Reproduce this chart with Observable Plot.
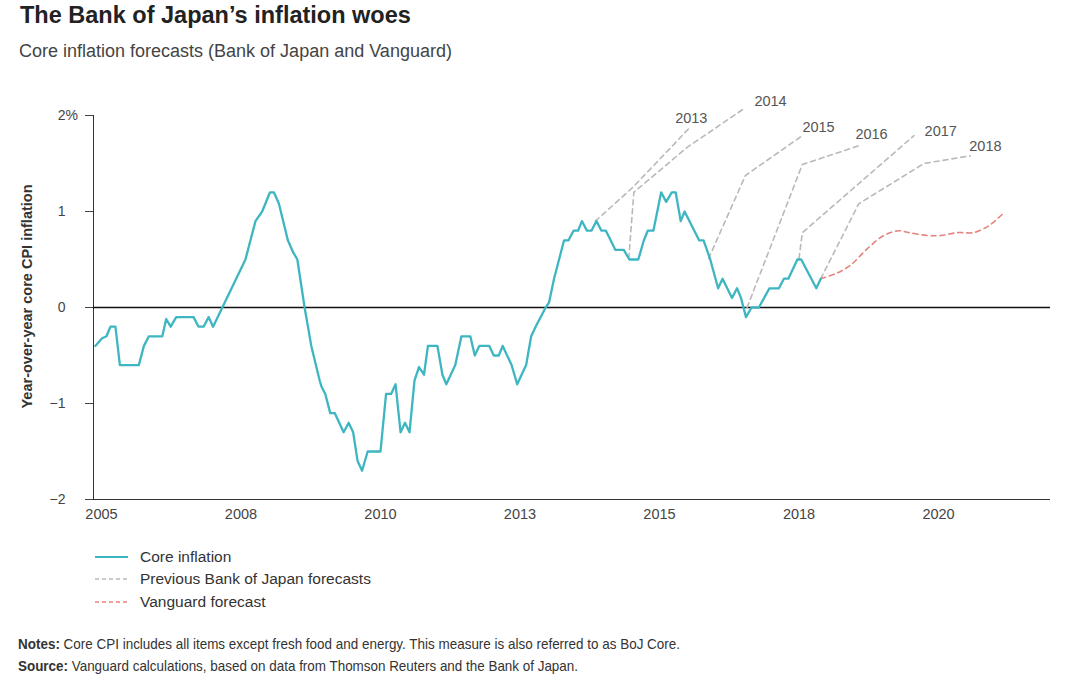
<!DOCTYPE html>
<html><head><meta charset="utf-8">
<script src="https://cdn.jsdelivr.net/npm/d3@7"></script>
<script src="https://cdn.jsdelivr.net/npm/@observablehq/plot@0.6"></script>
<style>
body{margin:0;background:#fff;font-family:"Liberation Sans",Arial,sans-serif;}
#wrap{position:relative;width:1080px;height:696px;overflow:hidden;background:#fff;}
.abs{position:absolute;white-space:nowrap;line-height:1;}
#title{left:20px;top:4px;font-size:23.5px;font-weight:700;color:#222;}
#subtitle{left:19px;top:42px;font-size:18px;color:#444;}
#chart{position:absolute;left:0;top:80px;}
.leg{left:95px;height:20px;font-size:15.5px;color:#333;display:flex;align-items:center;}
.leg svg{margin-right:12px;}
.note{left:18px;font-size:15px;color:#333;transform-origin:0 0;font-family:"Liberation Sans Narrow","Liberation Sans",Arial,sans-serif;}
.note b{font-weight:700;}
</style></head>
<body>
<div id="wrap">
  <div id="title" class="abs">The Bank of Japan’s inflation woes</div>
  <div id="subtitle" class="abs">Core inflation forecasts (Bank of Japan and Vanguard)</div>
  <div id="chart"></div>
  <div id="legend"></div>
  <div id="note1" class="abs note"><b>Notes:</b> Core CPI includes all items except fresh food and energy. This measure is also referred to as BoJ Core.</div>
  <div id="note2" class="abs note"><b>Source:</b> Vanguard calculations, based on data from Thomson Reuters and the Bank of Japan.</div>
</div>
<script>
// ---------- data ----------
const xTicks = [2005, 2007.5, 2010, 2012.5, 2015, 2017.5, 2020];
const xTickLabels = ["2005", "2008", "2010", "2013", "2015", "2018", "2020"];
const yTicks = [-2, -1, 0, 1, 2];
const yLabel = "Year-over-year core CPI inflation";

const coreInflation = [
[2004.89,-0.40],[2005.01,-0.32],[2005.09,-0.30],[2005.16,-0.20],[2005.25,-0.20],[2005.33,-0.60],[2005.67,-0.60],
[2005.76,-0.40],[2005.85,-0.30],[2006.09,-0.30],[2006.16,-0.12],[2006.24,-0.20],[2006.34,-0.10],[2006.65,-0.10],
[2006.74,-0.20],[2006.83,-0.20],[2006.92,-0.10],[2007.00,-0.20],[2007.58,0.50],[2007.76,0.90],[2007.88,1.00],
[2008.02,1.20],[2008.09,1.20],[2008.18,1.08],[2008.34,0.70],[2008.43,0.58],[2008.51,0.50],[2008.64,0.00],
[2008.76,-0.40],[2008.91,-0.76],[2008.94,-0.82],[2009.01,-0.90],[2009.10,-1.10],[2009.18,-1.10],[2009.34,-1.30],
[2009.43,-1.20],[2009.51,-1.30],[2009.59,-1.60],[2009.67,-1.70],[2009.77,-1.50],[2010.00,-1.50],[2010.10,-0.90],
[2010.19,-0.90],[2010.27,-0.80],[2010.36,-1.30],[2010.44,-1.20],[2010.52,-1.30],[2010.61,-0.76],[2010.69,-0.62],
[2010.78,-0.70],[2010.85,-0.40],[2011.02,-0.40],[2011.11,-0.70],[2011.18,-0.80],[2011.34,-0.60],[2011.45,-0.30],
[2011.61,-0.30],[2011.69,-0.50],[2011.77,-0.40],[2011.95,-0.40],[2012.03,-0.50],[2012.12,-0.50],[2012.19,-0.40],
[2012.35,-0.60],[2012.45,-0.80],[2012.61,-0.60],[2012.70,-0.30],[2012.78,-0.20],[2012.96,0.00],[2013.02,0.05],
[2013.11,0.30],[2013.29,0.70],[2013.37,0.70],[2013.46,0.80],[2013.54,0.80],[2013.61,0.90],[2013.70,0.80],
[2013.78,0.80],[2013.87,0.90],[2013.96,0.80],[2014.04,0.80],[2014.21,0.60],[2014.36,0.60],[2014.46,0.50],
[2014.62,0.50],[2014.72,0.70],[2014.79,0.80],[2014.89,0.80],[2015.03,1.20],[2015.12,1.10],[2015.22,1.20],
[2015.29,1.20],[2015.38,0.90],[2015.45,1.00],[2015.71,0.70],[2015.79,0.70],[2015.91,0.50],[2016.05,0.20],
[2016.13,0.30],[2016.30,0.10],[2016.39,0.20],[2016.46,0.10],[2016.55,-0.10],[2016.65,0.00],[2016.78,0.00],
[2016.97,0.20],[2017.14,0.20],[2017.23,0.30],[2017.31,0.30],[2017.47,0.50],[2017.54,0.50],[2017.81,0.20],
[2017.89,0.30]
];

const vanguardForecast = [
[2017.89,0.30],[2018.15,0.35],[2018.42,0.44],[2018.72,0.61],[2019.02,0.75],[2019.29,0.80],[2019.47,0.78],
[2019.80,0.75],[2020.04,0.75],[2020.34,0.78],[2020.63,0.78],[2020.87,0.84],[2020.99,0.89],[2021.16,0.98]
];

const bojForecastLabels = ["2013", "2014", "2015", "2016", "2017", "2018"];
const bojForecasts = [
  [[2013.85,0.90],[2014.52,1.25],[2015.52,1.86]],
  [[2014.45,0.51],[2014.54,1.20],[2015.50,1.67],[2016.51,2.07]],
  [[2015.88,0.51],[2016.54,1.375],[2017.56,1.79]],
  [[2016.57,0.00],[2017.56,1.49],[2018.60,1.69]],
  [[2017.50,0.51],[2017.56,0.78],[2019.56,1.79]],
  [[2017.89,0.30],[2018.57,1.08],[2019.74,1.50],[2020.57,1.58]]
];
const forecastLabelX = [2015.57, 2016.99, 2017.85, 2018.80, 2020.04, 2020.84];
const forecastLabelY = [1.97, 2.15, 1.875, 1.80, 1.84, 1.68];

const legendLabels = ["Core inflation", "Previous Bank of Japan forecasts", "Vanguard forecast"];

// ---------- styles ----------
const teal = "#3db6c2", grey = "#b9b9b9", red = "#e3857c";
const xDomain = [2004.857, 2022.007];

const forecastTable = bojForecasts.flatMap((pts, i) => pts.map(([year, value]) => ({label: bojForecastLabels[i], year, value})));

const chart = Plot.plot({
  width: 1080, height: 450,
  marginTop: 35, marginBottom: 31, marginLeft: 93, marginRight: 30,
  style: {fontFamily: "Liberation Sans, Arial, sans-serif", background: "transparent", overflow: "visible"},
  x: {domain: xDomain},
  y: {domain: [-2, 2]},
  marks: [
    Plot.axisY({ticks: yTicks, tickSize: 8, tickPadding: 20, fontSize: 14, color: "#444", label: null,
      tickFormat: d => d < 0 ? "\u2212" + Math.abs(d) : String(d)}),
    Plot.text(["%"], {x: xDomain[0], y: 2, text: d => d, textAnchor: "start", dx: -28, fontSize: 14, fill: "#444"}),
    Plot.axisX({ticks: xTicks, tickSize: 0, tickPadding: 9, fontSize: 14.5, color: "#444", label: null,
      tickFormat: d => xTickLabels[xTicks.indexOf(d)]}),
    Plot.text([yLabel], {x: xDomain[0], y: 0, text: d => d, rotate: -90, textAnchor: "middle", dx: -66, dy: -11, fontSize: 14.5, fontWeight: 600, fill: "#333"}),
    Plot.ruleX([xDomain[0]], {y1: -2, y2: 2, stroke: "#333", strokeWidth: 1}),
    Plot.ruleY([-2], {stroke: "#333", strokeWidth: 1}),
    Plot.ruleY([0], {stroke: "#111", strokeWidth: 1.4}),
    Plot.line(forecastTable, {x: "year", y: "value", z: "label", stroke: grey, strokeWidth: 1.6, strokeDasharray: "5,4"}),
    Plot.line(vanguardForecast, {x: d => d[0], y: d => d[1], stroke: red, strokeWidth: 1.6, strokeDasharray: "5,4", curve: "catmull-rom"}),
    Plot.line(coreInflation, {x: d => d[0], y: d => d[1], stroke: teal, strokeWidth: 2.3, strokeLinejoin: "round"}),
    Plot.text(bojForecastLabels, {x: (d, i) => forecastLabelX[i], y: (d, i) => forecastLabelY[i], text: d => d, fontSize: 14.5, fill: "#555"})
  ]
});
document.getElementById("chart").appendChild(chart);

// ---------- legend ----------
const legendStyles = [
  {stroke: teal, width: 2.2, dash: null},
  {stroke: grey, width: 1.6, dash: "4,3"},
  {stroke: red, width: 1.6, dash: "4,3"}
];
const legendTops = [547, 569, 592];
const legend = document.getElementById("legend");
legendLabels.forEach((lab, i) => {
  const row = document.createElement("div");
  row.className = "abs leg";
  row.style.top = legendTops[i] + "px";
  const s = legendStyles[i];
  row.innerHTML = `<svg width="33" height="10"><line x1="0" x2="33" y1="5" y2="5" stroke="${s.stroke}" stroke-width="${s.width}" ${s.dash ? `stroke-dasharray="${s.dash}"` : ""}/></svg><span>${lab}</span>`;
  legend.appendChild(row);
});

// ---------- notes (condensed) ----------
const n1 = document.getElementById("note1"), n2 = document.getElementById("note2");
n1.style.top = "636px"; n2.style.top = "658px";
[[n1, 662], [n2, 560]].forEach(([el, w]) => {
  const cur = el.getBoundingClientRect().width;
  if (cur > 0) el.style.transform = `scaleX(${w / cur})`;
});
</script>
</body></html>
